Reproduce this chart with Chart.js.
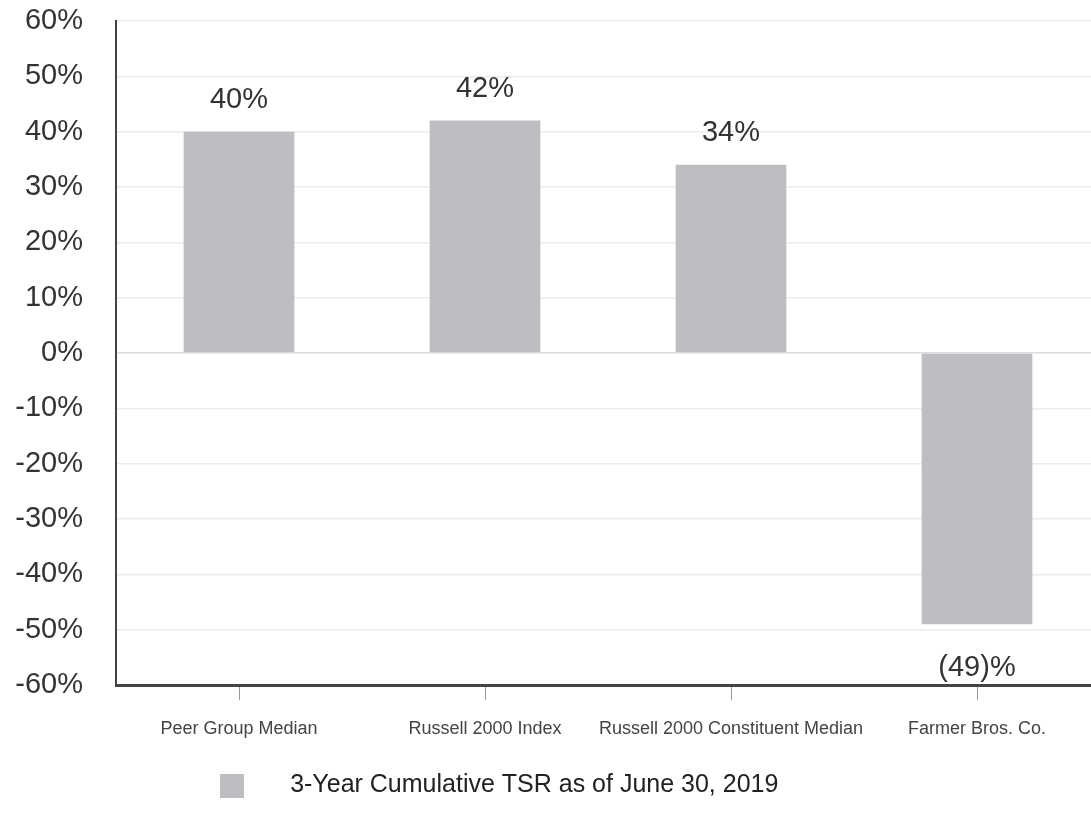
<!DOCTYPE html>
<html>
<head>
<meta charset="utf-8">
<script src="https://cdn.jsdelivr.net/npm/chart.js@4"></script>
<style>
  html, body { margin: 0; padding: 0; background: #fff; overflow: hidden; }
  #wrap { width: 1100px; height: 830px; }
</style>
</head>
<body>
<div id="wrap"><canvas id="tsrChart" width="1100" height="830"></canvas></div>
<script>
// chart data
const categories = ['Peer Group Median', 'Russell 2000 Index', 'Russell 2000 Constituent Median', 'Farmer Bros. Co.'];
const tsrValues = [40, 42, 34, -49];
const seriesLabel = '3-Year Cumulative TSR as of June 30, 2019';
const yTicks = [60, 50, 40, 30, 20, 10, 0, -10, -20, -30, -40, -50, -60];

const FONT = "'Liberation Sans', Arial, Helvetica, sans-serif";
const BAR_COLOR = '#bdbec1';

function fmtPct(v) {
    return v < 0 ? '(' + (-v) + ')%' : v + '%';
}

// small square used as the legend marker (wide gap before the text)
const legendSwatch = document.createElement('canvas');
legendSwatch.width = 24;
legendSwatch.height = 24;
const sw = legendSwatch.getContext('2d');
sw.fillStyle = BAR_COLOR;
sw.fillRect(0, 0, 24, 24);

// value labels above / below each bar
const valueLabels = {
    id: 'valueLabels',
    afterDatasetsDraw(chart) {
        const ctx = chart.ctx;
        const meta = chart.getDatasetMeta(0);
        ctx.save();
        ctx.font = '29px ' + FONT;
        ctx.fillStyle = '#333';
        ctx.textAlign = 'center';
        ctx.textBaseline = 'alphabetic';
        meta.data.forEach((bar, i) => {
            const v = chart.data.datasets[0].data[i];
            if (v >= 0) {
                ctx.fillText(fmtPct(v), bar.x, bar.y - 24);
            } else {
                ctx.fillText(fmtPct(v), bar.x, bar.y + 52);
            }
        });
        ctx.restore();
    }
};

// nudge the legend left like the original
const legendShift = {
    id: 'legendShift',
    afterLayout(chart) {
        const dx = -68;
        chart.legend.left += dx;
        chart.legend.right += dx;
    }
};

const ctx = document.getElementById('tsrChart').getContext('2d');
new Chart(ctx, {
    type: 'bar',
    data: {
        labels: categories,
        datasets: [{
            label: seriesLabel,
            data: tsrValues,
            backgroundColor: BAR_COLOR,
            borderWidth: 0,
            barPercentage: 0.45,
            categoryPercentage: 1.0
        }]
    },
    options: {
        responsive: false,
        animation: false,
        layout: {
            padding: { top: 21, right: 0, bottom: 22, left: 0 }
        },
        plugins: {
            legend: {
                display: true,
                position: 'bottom',
                labels: {
                    usePointStyle: true,
                    pointStyle: legendSwatch,
                    pointStyleWidth: 92,
                    boxHeight: 24,
                    padding: 10,
                    color: '#222',
                    font: { family: FONT, size: 25 }
                }
            },
            tooltip: { enabled: false }
        },
        scales: {
            x: {
                offset: true,
                grid: {
                    offset: false,
                    drawOnChartArea: false,
                    drawTicks: true,
                    tickLength: 15,
                    color: '#999'
                },
                border: { display: true, color: '#444', width: 3 },
                ticks: {
                    color: '#444',
                    padding: 18,
                    maxRotation: 0,
                    autoSkip: false,
                    font: { family: FONT, size: 18 }
                },
                afterFit(scale) { scale.height = 78; }
            },
            y: {
                min: -60,
                max: 60,
                afterBuildTicks(scale) {
                    scale.ticks = yTicks.map(v => ({ value: v }));
                },
                grid: {
                    drawTicks: false,
                    color: (c) => c.tick && c.tick.value === 0 ? '#dcdcdc' : '#ececec',
                    lineWidth: 1.5
                },
                border: { display: true, color: '#444', width: 2 },
                ticks: {
                    color: '#333',
                    padding: 33,
                    font: { family: FONT, size: 29 },
                    callback: (v) => v + '%'
                },
                afterFit(scale) {
                    scale.width = 116;
                    scale.paddingTop = 0;
                    scale.paddingBottom = 0;
                }
            }
        }
    },
    plugins: [valueLabels, legendShift]
});
</script>
</body>
</html>
